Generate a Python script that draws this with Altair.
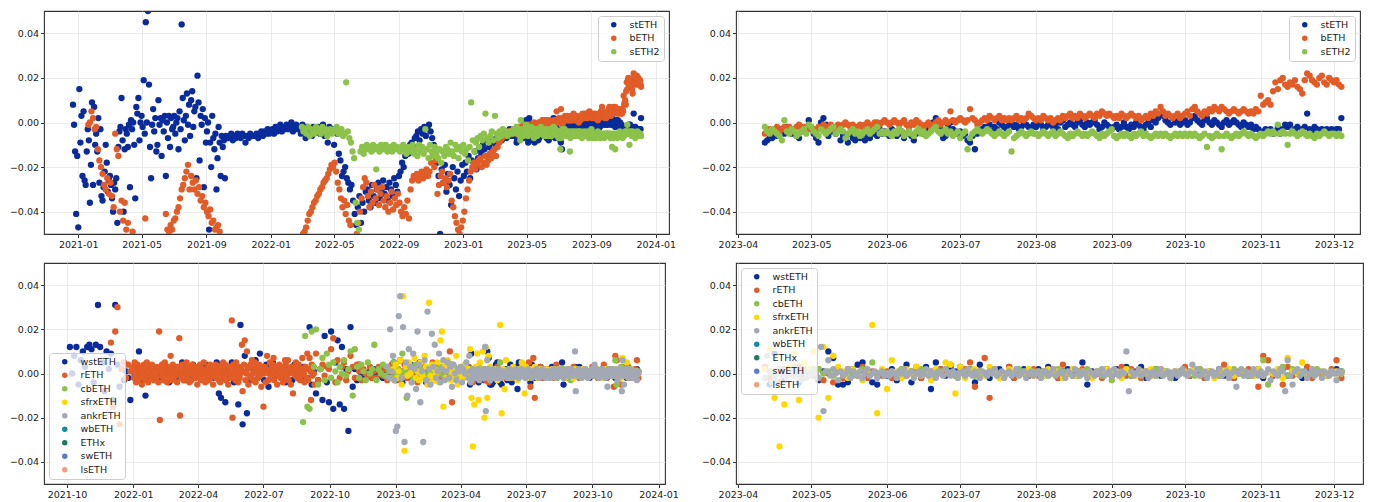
import altair as alt
import pandas as pd
import numpy as np

# ---------------------------------------------------------------
# Price deviation values, in per-mille (‰):
# every number below is value * 1000 (e.g. -5 -> -0.005).
# Each block: start date, spacing in days, values.
# ---------------------------------------------------------------

# ---- top panels: stETH, bETH, sETH2 ----
STETH_A_START, STETH_A_STEP = "2020-12-22", 2
steth_a = [8, -1, -13, -41, -15,
           -47, 15, -9, 3, -24, 5, -26, -28, -13, -3, -8, -36, -19, 9, -28, 7,
           -10, -5, -13, 2, -27, -3, -33, -35, -29, -22, -10, -18, -31, -26,
           -24, -28, -34, -40, -27, -30, -25, -45, -11, -4, -2, 11, -8, -40, -12,
           -3, -5, -11, -1, -29, 1, -3, 0, -10, -34, 7, 4, 11, -8, 0,
           3, -2, 19, -5, 45, 0, 50, 17, -11, -25, -1, 6, -4, 2, -13, -10,
           10, -1, 2, -15, 1, -4, 3, -24, 0, -7, 3, -11, 2, -3, -2,
           3, -5, 0, 2, -12, 5, -3, 44, 11, 1, -8, 3, 13, -1, 8,
           -6, 10, 14, -2, 5, 7, -25, 21, 9, -17, 3, -1, 6, -29, 2, -9,
           -4, 0, -48, -9, -20, 3, -7, -12, -5, -30, -16, -2, -9, -24, -6,
           -11, -8, -25, -6, -7]

STETH_B_START, STETH_B_STEP = "2021-10-12", 3
steth_b = [-7, -6, -5, -8, -6, -7, -5,
           -6, -7, -5, -6, -9, -6, -7, -5, -6, -6,
           -6, -5, -7, -5, -4, -6, -4, -5, -3, -5,
           -4, -3, -5, -2, -4, -3, -1, -4, -2, -3,
           -1, -3, -2, 0, -4, -2, -1, -3, -2,
           -5, -1, -3, -7, -2, -4, -3, -6, -2, -4, -3,
           -2, -5, -3, -1, -6, -3, -9, -2, -4, -3,
           -10, -3, -5, -14, -17, -24, -22, -20, -25, -27, -30,
           -28, -35, -41, -46, -38, -33, -45, -36, -40, -31,
           -30, -35, -38, -28, -33, -36, -30, -27, -34, -31,
           -26, -32, -29, -35, -27, -30, -33, -25, -28, -31, -24,
           -22, -18, -20, -15, -12, -14, -10, -9, -11, -7,
           -6, -4, -8, -3, -5, -2, -6, -3, -1, -4,
           -7, -10, -14, -18, -24, -50, -21, -27, -19, -31,
           -23, -28, -37, -20, -25, -30, -22, -33, -26, -19, -24,
           -18, -22, -15, -25, -17, -20, -13, -21, -16, -12,
           -14, -10, -12, -8, -15, -11, -7, -13, -9, -10,
           -7, -9, -5, -8, -6, -4, -7, -5, -3, -6,
           -5, -6, -4]

ZOOM_START = "2023-04-12"
steth_z = [-9, -8, -7, -7, -5, -6, -3, -4, -5, -2, -4, -5, -3, -6, -7, -4, -3, -2, 1,
           -3, -5, -7, -9, 0, 2, -1, -6, -4, -3, -5, -2, -8, -6, -7, -9, -5, -7, -8, -6,
           -7, -5, -8, -6, -7, -5, -4, -6, -3, -5, -4,
           -5, -6, -3, -4, -6, -5, -4, -7, -5, -4, -6, -8, -5, -4, -3, -5, -2, -4, -1, 0,
           2, -1, -3, -7, -6, -2, 0, -3, -4, -5,
           -4, -6, -5, -8, -9, -6, -12, -5, -4, -3, -2, -3, -1, -4, -2, -3, 0, -1, -2, -3,
           -1, 0, -2, -1, -3, -2, 0, -1, -2, -3, -1,
           -2, 0, -1, -3, -2, -1, 0, -2, -1, -3, 0, 1, -2, -1, 0, -1, -2, 0, 1, -1,
           -2, 0, -1, 0, 1, -1, -3, -2, 0, -1, -2,
           -3, -2, -1, -3, -2, 0, -2, -3, -1, -2, 0, -1, -2, -3, -1, 0, -2, 1, 0, 2,
           4, 3, 1, 0, -1, 2, 0, 1, -1, 0,
           1, -1, 0, 2, 3, 1, 0, -1, 1, 2, 0, -1, 1, 0, -1, -2, 0, 1, -1, 0,
           1, 0, -1, -2, 0, -1, -2, -1, -3, -2, -3,
           -5, -4, -3, -4, -3, -5, -4, -2, -5, -3, -1, -2, -1, -4, -3, -2, -5, -3, -2, 4,
           -3, -4, -2, -3, -5, -3, -4, -3, -4, -3,
           -4, -3, -3, 2]

BETH_A_START, BETH_A_STEP = "2021-01-20", 3
beth_a = [-1, 0, 5, 2, -3, -2,
          -12, -17, -20, -23, -28, -30, -25, -32,
          -27, -33, -38, -5, -12, -15, -40, -35, -44, -36,
          -48, -45, -52, -55, -49, -58, -62, -60, -57, -63,
          -60, -58, -43, -62, -65, -60, -58, -56, -59, -55, -54,
          -53, -55, -52, -54, -41, -48, -49, -46, -48, -44,
          -43, -40, -38, -34, -30, -28, -25, -22, -19, -30,
          -24, -27, -30, -26, -32, -29, -35, -33, -38, -36,
          -40, -42, -39, -45, -44, -48, -47, -46, -49, -52,
          -55, -58]

BETH_B_START, BETH_B_STEP = "2022-02-25", 3
beth_b = [-60, -55,
          -50, -49, -47, -44, -41, -40, -38, -36, -35, -33,
          -32, -30, -29, -27, -26, -25, -23, -21, -19, -20,
          -18, -22, -27, -30, -34, -38, -35, -41, -37, -44,
          -46, -52, -55, -58, -50, -45, -40, -34, -29, -25,
          -27, -33, -38, -31, -36, -28, -34, -30, -37, -32, -29,
          -35, -38, -33, -40, -36, -31, -39, -34, -37, -32,
          -36, -40, -42, -38, -41, -35, -43, -30, -26, -24,
          -25, -23, -26, -24, -22, -25, -23, -21, -24, -22,
          -18, -15, -20, -17, -32, -28, -24, -22, -27, -25,
          -29, -26, -23, -35, -38, -42, -45, -48, -50, -47, -44,
          -40, -34, -30, -26, -22, -20, -18, -21, -19, -17,
          -16, -20, -18, -15, -19, -17, -14, -16, -13,
          -12, -15, -11, -9, -8, -7, -6, -5, -6, -4,
          -4, -5, -3]

beth_z = [-5, -4, -3, -4, -3, -2, -4, -3, -2, -3, -2, -4, -3, -2, -1, -2, -3, -2, -3,
          -2, -3, -4, -2, -3, -1, -2, -3, -1, -2, -3, -1, -2, -1, 0, -1, -2, -1, -3, -2,
          -1, -2, -1, 0, -1, -2, 0, 0, -1, 0, 1,
          0, -1, 0, 1, 0, -1, 0, 1, -1, -2, 0, -1, 1, 0, -1, -2, -1, 0, -2, -1,
          0, 1, -1, 0, 1, 0, 5, 1, 0, 1,
          2, 1, 0, 1, 6, 2, 1, -1, 0, 1, 2, 1, 3, 2, 1, 2, 3, 1, 2, 1,
          2, 1, 2, 3, 1, 2, 1, 2, 4, 3, 2,
          1, 2, 1, 3, 2, 1, 2, 0, 1, 2, 1, 3, 2, 3, 4, 2, 3, 2, 4, 3,
          2, 3, 4, 3, 2, 4, 3, 5, 4, 3, 4,
          3, 2, 3, 2, 4, 3, 2, 3, 4, 3, 2, 3, 1, 2, 3, 2, 4, 3, 5, 4,
          7, 5, 3, 4, 3, 2, 3, 4, 2, 3,
          4, 5, 3, 6, 7, 5, 4, 3, 5, 4, 6, 5, 7, 6, 5, 7, 6, 5, 4, 5,
          6, 5, 4, 5, 6, 5, 4, 5, 4, 6, 5,
          12, 8, 9, 10, 8, 14, 18, 15, 19, 20, 17, 16, 18, 17, 19, 16, 15, 13, 19, 22,
          21, 19, 18, 17, 20, 21, 18, 17, 20, 19,
          18, 19, 17, 16]

SETH2_B_START, SETH2_B_STEP = "2022-03-01", 3
seth2_b = [-2, -4, -3, -5, -2, -6, -3, -4, -5, -2, -4,
           -3, -5, -2, -4, -3, -6, -4, -3, -5, -4,
           -3, -2, -5, -4, -3, -6, -5, 18, -4, -7,
           -9, -13, -16, -36, -45, -48, -13, -11, -14, -12,
           -10, -12, -11, -13, -10, -12, -21, -11, -13, -10,
           -12, -11, -10, -13, -12, -11, -13, -10, -12, -11, -12,
           -13, -11, -10, -12, -14, -11, -13, -12, -10, -14,
           -12, -15, -10, -13, -11, -14, -3, -12, -16, -10,
           -13, -15, -11, -14, -16, -12, -18, -13, -15, -11,
           -12, -14, -9, -13, -15, -10, -12, -16, -11, -13,
           -10, -14, -12, -17, -11, 9, -8, -13, -9, -7, -11,
           -6, -8, -5, 4, -7, -9, -6, -4, -8,
           3, -5, -7, -4, -6, -3, -5, -4, -6, -5,
           -4, -5, -3]

seth2_z = [-2, -4, -5, -3, -4, -5, -6, -8, 1, -4, -5, -3, -4, -6, -5, -4, -3, -5, -1,
           -2, -4, -5, -6, -3, -4, -5, -4, -3, -2, -5, -4, -3, -4, -7, -5, -4, -3, -5, -4,
           -6, -5, -4, -3, -5, -4, -3, -2, -5, -4, -5,
           -4, -5, -6, -4, -5, -3, -4, -6, -5, -4, -5, -6, -4, -3, -5, -4, -6, -5, -4, -3,
           -2, -4, -5, -4, -3, -5, -4, -6, -5, -4,
           -7, -5, -4, -12, -7, -5, -4, -3, -4, -5, -4, -3, -4, -5, -6, -5, -4, -5, -6, -5,
           -4, -13, -7, -6, -5, -4, -5, -6, -5, -4, -5,
           -5, -6, -5, -4, -5, -6, -5, -4, -6, -5, -4, -5, -6, -7, -5, -6, -5, -4, -5, -6,
           -5, -6, -5, -4, -5, -6, -7, -5, -6, -5, -4,
           -3, -6, -7, -6, -5, -6, -5, -6, -7, -5, -6, -5, -4, -6, -5, -6, -7, -6, -5, -6,
           -5, -6, -5, -6, -7, -6, -5, -6, -5, -6,
           -5, -6, -5, -6, -5, -6, -7, -6, -5, -11, -6, -7, -6, -5, -6, -12, -6, -5, -6, -7,
           -6, -5, -6, -5, -4, -5, -6, -5, -6, -7, -6,
           -5, -6, -5, -4, -5, -4, -5, -1, -5, -4, -5, -10, -5, -4, -5, -6, -5, -4, -5, -6,
           -5, -6, -7, -5, -6, -5, -4, -5, -6, -5,
           -5, -6, -5, -6]

# ---- bottom panels: wstETH, rETH, cbETH, sfrxETH, ankrETH ----
WSTETH_B_START, B_STEP = "2021-10-05", 3
wsteth_b = [12, 0, 8, 12, -5, 6, 10, 3, 12,
            13, 11, -4, 13, 31, 12, 5, -8, 10, 2,
            9, -12, 31, 4, -6, 2, -3, 1, -2, -12,
            2, -1, 3, 10, 0, -3, -10, 2, -2, 1,
            -1, 2, -3, 0, 4, -2, 1, -4, 3,
            0, -2, 3, -1, 5, -3, 1, 2, -1, 4,
            -2, 1, 3, -1, 0, 4, -3, 2, -2, 0,
            5, -9, -11, 1, -13, 2, -1, 5, -4, 3,
            -14, 22, -23, 8, -18, 3, -3, 2, 6, -2,
            9, 1, -3, 4, -6, 2, 5, -1, 3, 0,
            -2, 3, -4, 1, 2, -3, 4, -1, 2, -2, 3,
            3, -2, 21, -5, 1, -9, -3, 2, -12, 17,
            -4, -13, 19, -16, 5, 15, -14, 12, -16, 2,
            -26, 21, -6, 2, -3, 4, -1, 1, -2, 0,
            1, -2, 2, 0, -1, 3, -2, 1, 0, -1, 2,
            5, -3, 2, 6, -4, 1, 3, -2, 4, 0,
            -3, 2, 5, -1, 3, -4, 1, 2, -2,
            4, -1, 2, -3, 0, 3, -2, 1, 4, -1,
            2, -1, 1, 0, 2]

RETH_B1_START = "2021-12-01"          # every 3 days
reth_b1 = [14, -15, 19, 30, -23, 2, 5, -2, 4, 1]
RETH_B2_START = "2021-12-31"          # daily
reth_b2 = [2,
           3, -2, 5, 0, -4, 1, 4, -3, 2, -1, 0, 3, -5, 1, -2, 4, 0, -3, 2, 5, -1, -4, 1, 3, -2,
           0, 4, -1, 2, -3, 1,
           0, -2, 3, 1, -4, 19, -21, 2, -1, 4, 0, -3, 2, 5, -2, 1, -4, 3, 0, -1, 2, 8, -3, 1,
           4, -2, 0, 3,
           -1, 2, -4, 1, 3, 16, -19, 0, -2, 4, 1, -3, 2, 0, -1, 5, -2, 3, 1, -4, 0, 2, -3, 4,
           1, -1, 3, -2, 0, 2, -5,
           3, -1, 0, 4, -3, 2, 1, -2, 5, 0, -4, 2, 1, -1, 3, -3, 0, 4, -2, 1, 2, -5, 3, 0,
           -1, 4, -2, 1, 3, -3,
           2, -4, 0, 3, -1, 5, -2, 1, 4, -3, 0, 2, -5, 1, 3, -2, 0, 24, -20, 4, -1, 2, -3, 5,
           0, 1, -4, 3, -2, 0, 2,
           13, -8, 1, 4, 15, -3, 0, 10, 2, -5, 3, -1, 4, -2, 6, 0, -3, 2, 5, -4, 1, 3, -2, 0,
           4, -1, 2, -6, 1, 3,
           -15, 0, 3, -4, 2, 8, 1, -3, 0, 5, -1, 2, -2, 4, 7, -3, 1, 0, 3, -5, 2, -1, 4, 0,
           -2, 3, 1, -4, 2, 0, 6,
           4, -2, 1, 6, -3, 0, 2, -5, 3, 1, -9, 2, 0, -1, 5, 3, -2, 1, 4, 0, -3, 2, -1, 7,
           1, 0, -4, 3, 2, -2, 9,
           -3, 2, 7, 1, -12, 4, -1, 3, 0, -5]
RETH_B3_START = "2022-09-12"          # every 3 days
reth_b3 = [9, -3, 2, 4, -1, 3, 2,
           11, 16, -4, 6, -2, 3, 5, -3, 1, 8,
           3, -2, 4, 1, -3, 2, 0, -1, 3, -2,
           1, -2, 3, 0, -1, 2, -3, 1, 4, -1, 0,
           2, -3, 1, 4, -2, 0, 3, -1, 2, -4,
           1, -2, 3, 0, -1, 2, 5, -3, 1,
           -2, 3, 1, -1, 4, 10, -13, 2, -1, 0,
           1, -2, 2]

CBETH_B_START = "2022-08-25"
cbeth_b = [-22, 17, -15,
           -16, 19, 3, 20, -5, 2, 7, -3, 9, 4,
           -2, 5, 1, -4, 3, 0, 6, -1, 2, 10,
           -10, 11, 3, -2, 4, 1, -3, 5, 0, 2,
           13, -3, 2, 0, 4, -1, 3, 1, -2, 5, 0,
           2, -1, 9, 1, -11, 3, 0, -2, 4, 1,
           -1, 2, 0, 3, -2, 1, 4, -1, 2,
           0, 3, -1, 2, 1, -2, 0, 3, 1, -1,
           2, 0, 1]

SFRX_B_START, EARLY2_STEP = "2022-12-28", 2
sfrx_b = [2, -3,
          4, -2, 1, 6, -5, 35, -35, 3, -1, 5, 0, -4, 2, 7, -2,
          1, -3, 5, 0, -2, 8, 3, -5, 32, -1, 4, -3, 2, 0,
          5, -4, 15, 19, -15, 3, -2, 6, 1, -3, 4, -1, 2, 8, -5, 0,
          3, -2, 1, 4, -1]

ANKR_B_START = "2022-12-20"
ankr_b = [3, -2, 20, 1, 8, -3,
          -26, -24, 26, 35, -2, 21, -31, 5, -10, 11, 3, -4, 9, 2, -7, 19,
          4, -13, 1, -31, 6, -3, 28, 2, -5, 18, 3, 13, -2, 1,
          9, -4, 2, 6, -3, 1, 5, -2, 3, -6, 4, 0, -3, 2, 1,
          3, -4, 2, 0, 5]

Z2_STEP = 2  # every second day from ZOOM_START
wsteth_z = [3, -5, 9, 2, -3, 0, 3, -4, 2, 1,
            0, -3, 1, 10, 7, -5, -5, -4, 2, 4, 5, -2, -4, -5, 1,
            -1, 2, -3, 0, 4, -4, 1, -2, 3, -7, 5, 2, -1, 3, 1,
            3, -1, 2, -4, 4, 0, -2, 1, 2, -1, 3, -2, 0, 2, -1, 1,
            2, -1, 3, 0, -2, 1, 2, 0, -1, 5, -5, 1, 0, -1, 2,
            -1, 2, 0, 3, -1, 1, 3, -2, 0, 2, -1, 1, 0, -2, 1,
            2, -1, 0, 1, -2, 1, 0, 2, -1, 1, -2, 0, 1, -1, 0, 2,
            -2, 1, -1, 0, 2, -1, 1, 0, -2, 2, -1, 1, 0, -1, 1,
            2, 1]
reth_z = [3, -2, 1, -4, 2, 0, -1, 3, -2, 1,
          -1, 2, -3, 0, -4, 1, -2, 2, 0, -1, 3, -2, 1, 0, -1,
          1, -2, 0, 2, -1, 1, 3, -2, 0, 1, -1, 2, 0, 4, -1,
          1, 2, 5, -6, 1, 7, -11, 2, -1, 0, 3, -2, 1, 0, -1, 2,
          -1, 1, 0, 2, -2, 4, 0, -1, 1, 2, -1, 0, 1, -2, 0,
          1, 0, 3, -1, 2, 0, -2, 1, 0, -1, 2, 0, -1, 1, 0,
          3, -1, 0, 2, -2, 1, 0, -1, 4, 0, -2, 1, 0, 2, -1, -6,
          8, 6, -1, 0, -5, 3, -1, 1, 0, 3, -2, 1, 0, -1, 2,
          6, -2]
cbeth_z = [2, 1, -1, 2, 0, 1, 3, -1, 2, 0,
           1, 2, 0, 1, -1, 2, 0, 1, -1, 0, 2, 1, 5, 0, 1,
           0, 1, -1, 2, 0, 1, 0, 2, 1, -1, 0, 1, 2, 0, -1,
           1, 0, 2, -1, 1, 0, 1, 2, 0, -1, 1, 0, 2, 1, 0, 1,
           0, 1, -1, 0, 2, 1, 0, -1, 1, 0, 2, 0, 1, -1, 0,
           -3, 1, 0, 2, -1, 0, 1, 0, -1, 2, 0, 1, -1, 0, 1,
           0, 1, -1, 2, 0, 1, 0, -1, 1, 0, 2, 0, 1, -1, 0, 1,
           6, -5, 0, 1, 3, -1, 2, 0, 1, -1, 0, 2, 1, 0, 1,
           0, 1]
sfrx_z = [2, 11, -11, -33, -14, 3, 9, -12, 5, 2,
          10, -20, 12, -11, 8, 3, 1, -2, 2, 0, -3, 1, 22, -18, 2,
          -7, 6, 1, -2, 2, 0, 3, -1, 1, -3, 2, 0, 5, 4, -9,
          3, -2, 1, 2, 0, -1, 3, 1, -2, 0, 2, 1, -1, 0, 2, -1,
          1, -1, 2, 0, 1, -2, 0, 2, -1, 1, 0, -2, 1, 0, 2,
          0, 1, -2, 2, 0, -1, 1, 0, 2, -1, 0, 1, -2, 1, 0,
          1, 0, 2, -1, 0, 1, -2, 0, 1, 2, -1, 0, 1, 0, -1, 2,
          -1, 1, 0, 2, -2, 7, 1, 0, 5, -1, 2, 0, 1, -1, 0,
          1, 0]
# ankrETH, daily from ZOOM_START
ankr_z = [-2, 8, 1, -4, -3, 0, 2, -1, 1, -2, 0, 1, -1, 2, 0, -3, 1, -2, 0,
          -1, 2, 0, -2, 12, -17, 1, 6, -1, 2, 0, -3, 1, -1, 0, 2, -2, 1, 0, -1,
          1, -2, 0, 2, -1, 0, 1, -2, 0, 1, -1,
          0, -1, 1, 0, -2, 1, 0, 2, -1, 0, 1, -2, 0, 1, -1, 0, 2, -1, 1, 0,
          -2, 1, 0, -1, 2, 0, -1, 1, 0, -2,
          0, 1, -1, 2, 0, -1, 1, 0, -2, 1, 0, -1, 1, 0, 2, -1, 0, 1, -2, 0,
          1, -1, 0, 2, -1, 0, 1, -2, 0, 1, -1,
          0, 1, -2, 0, 1, -1, 0, 2, -1, 0, 1, 0, -2, 1, 0, -1, 2, 0, -1, 1,
          0, -2, 1, 0, -1, 1, 0, 2, -1, 0, 1,
          -1, 2, 0, -1, 1, 0, 10, -8, 1, -1, 0, 2, -1, 0, 1, -2, 0, 1, -1, 0,
          2, -1, 0, 1, -2, 0, 1, -1, 0, 2,
          0, -1, 1, 4, 0, 2, -1, 0, 1, -2, 0, 1, -1, 0, 2, -1, 0, 1, -2, 0,
          1, -6, 0, 2, -1, 1, 0, -1, 2, 0, -1,
          1, -1, 0, 2, -3, 1, 0, -1, 2, 1, -8, 6, -1, -5, 1, 2, -1, 0, 1, -2,
          0, 2, -1, 0, 1, -2, 1, 0, -1, 1,
          0, -3, 1, 0]

# ---- legends / colours / ticks ----
TOP_TOKENS = ["stETH", "bETH", "sETH2"]
TOP_COLORS = ["#0a2b9c", "#e15c27", "#8cc24a"]
BOT_TOKENS = ["wstETH", "rETH", "cbETH", "sfrxETH", "ankrETH", "wbETH", "ETHx", "swETH", "lsETH"]
BOT_COLORS = ["#0a2b9c", "#e15c27", "#8cc24a", "#ffd800", "#a3a9b4",
              "#138a9e", "#1d7a5f", "#5f7ccb", "#eea082"]

TL_TICKS = ["2021-01", "2021-05", "2021-09", "2022-01", "2022-05", "2022-09",
            "2023-01", "2023-05", "2023-09", "2024-01"]
BL_TICKS = ["2021-10", "2022-01", "2022-04", "2022-07", "2022-10", "2023-01",
            "2023-04", "2023-07", "2023-10", "2024-01"]
ZOOM_TICKS = ["2023-04", "2023-05", "2023-06", "2023-07", "2023-08", "2023-09",
              "2023-10", "2023-11", "2023-12"]
Y_TICKS = [-0.04, -0.02, 0.0, 0.02, 0.04]

TL_XDOM = ["2020-10-28", "2024-01-26"]
TR_XDOM = ["2023-03-31 05:00", "2023-12-11 15:00"]
BL_XDOM = ["2021-08-30", "2024-01-10"]
BR_XDOM = ["2023-03-31 05:00", "2023-12-12 20:00"]


def to_dt(s):
    t = pd.Timestamp(s)
    return alt.DateTime(year=t.year, month=t.month, date=t.day, hours=t.hour, minutes=t.minute)


def block(token, start, step, vals):
    d = pd.date_range(start, periods=len(vals), freq=f"{step}D")
    return pd.DataFrame({"date": d, "dev": np.asarray(vals, dtype=float) / 1000.0, "token": token})


def table(blocks):
    df = pd.concat([block(*b) for b in blocks], ignore_index=True)
    df["idx"] = np.arange(len(df))
    return df


top_full = table([
    ("stETH", STETH_A_START, STETH_A_STEP, steth_a),
    ("stETH", STETH_B_START, STETH_B_STEP, steth_b),
    ("stETH", ZOOM_START, 1, steth_z),
    ("bETH", BETH_A_START, BETH_A_STEP, beth_a),
    ("bETH", BETH_B_START, BETH_B_STEP, beth_b),
    ("bETH", ZOOM_START, 1, beth_z),
    ("sETH2", SETH2_B_START, SETH2_B_STEP, seth2_b),
    ("sETH2", ZOOM_START, 1, seth2_z),
])
top_zoom = table([
    ("stETH", ZOOM_START, 1, steth_z),
    ("bETH", ZOOM_START, 1, beth_z),
    ("sETH2", ZOOM_START, 1, seth2_z),
])
bot_full = table([
    ("wstETH", WSTETH_B_START, B_STEP, wsteth_b),
    ("wstETH", ZOOM_START, Z2_STEP, wsteth_z),
    ("rETH", RETH_B1_START, B_STEP, reth_b1),
    ("rETH", RETH_B2_START, 1, reth_b2),
    ("rETH", RETH_B3_START, B_STEP, reth_b3),
    ("rETH", ZOOM_START, Z2_STEP, reth_z),
    ("cbETH", CBETH_B_START, B_STEP, cbeth_b),
    ("cbETH", ZOOM_START, Z2_STEP, cbeth_z),
    ("sfrxETH", SFRX_B_START, EARLY2_STEP, sfrx_b),
    ("sfrxETH", ZOOM_START, Z2_STEP, sfrx_z),
    ("ankrETH", ANKR_B_START, EARLY2_STEP, ankr_b),
    ("ankrETH", ZOOM_START, 1, ankr_z),
])
bot_zoom = table([
    ("wstETH", ZOOM_START, Z2_STEP, wsteth_z),
    ("rETH", ZOOM_START, Z2_STEP, reth_z),
    ("cbETH", ZOOM_START, Z2_STEP, cbeth_z),
    ("sfrxETH", ZOOM_START, Z2_STEP, sfrx_z),
    ("ankrETH", ZOOM_START, 1, ankr_z),
])


def panel(df, tokens, colors, xdom, xticks, width, height, legend_orient):
    return alt.Chart(df).mark_circle(size=40, opacity=1, clip=True).encode(
        x=alt.X("date:T", title=None,
                scale=alt.Scale(domain=[to_dt(xdom[0]), to_dt(xdom[1])], nice=False),
                axis=alt.Axis(values=[to_dt(t + "-01") for t in xticks], format="%Y-%m",
                              labelFlush=False, labelOverlap=False, labelBound=False)),
        y=alt.Y("dev:Q", title=None,
                scale=alt.Scale(domain=[-0.05, 0.05], nice=False, zero=False),
                axis=alt.Axis(values=Y_TICKS, format=".2f", labelFlush=False, labelOverlap=False)),
        color=alt.Color("token:N", scale=alt.Scale(domain=tokens, range=colors),
                        legend=alt.Legend(title=None, orient=legend_orient)),
        order=alt.Order("idx:Q", sort="ascending"),
    ).properties(width=width, height=height)


tl = panel(top_full, TOP_TOKENS, TOP_COLORS, TL_XDOM, TL_TICKS, 625, 223, "top-right")
tr = panel(top_zoom, TOP_TOKENS, TOP_COLORS, TR_XDOM, ZOOM_TICKS, 624, 223, "top-right")
bl = panel(bot_full, BOT_TOKENS, BOT_COLORS, BL_XDOM, BL_TICKS, 621, 221, "bottom-left")
br = panel(bot_zoom, BOT_TOKENS, BOT_COLORS, BR_XDOM, ZOOM_TICKS, 627, 221, "top-left")

row1 = alt.hconcat(tl, tr, spacing=67, bounds="flush").resolve_scale(color="independent").resolve_legend(color="independent")
row2 = alt.hconcat(bl, br, spacing=71, bounds="flush").resolve_scale(color="independent").resolve_legend(color="independent")

chart = (
    alt.vconcat(row1, row2, spacing=12)
    .resolve_scale(color="independent")
    .resolve_legend(color="independent")
    .properties(padding={"left": 0, "top": 2, "right": 0, "bottom": 0}, background="white")
    .configure_view(stroke="#333333", strokeWidth=1.1)
    .configure_axis(
        labelFont="DejaVu Sans", labelFontSize=9.5, labelColor="#1a1a1a",
        tickColor="#1a1a1a", tickSize=3.5, tickWidth=0.9, labelPadding=2,
        grid=True, gridColor="#e6e6e6", gridWidth=0.8, domain=False,
    )
    .configure_legend(
        labelFont="DejaVu Sans", labelFontSize=9.5, labelColor="#1a1a1a",
        symbolType="circle", symbolSize=30, symbolStrokeWidth=0,
        padding=4, rowPadding=2.5, labelOffset=11, symbolOffset=7,
        fillColor="rgba(255,255,255,0.8)", strokeColor="#cccccc",
        cornerRadius=3, offset=5,
    )
)

chart.save("out.html", embed_options={"renderer": "svg", "actions": False})
